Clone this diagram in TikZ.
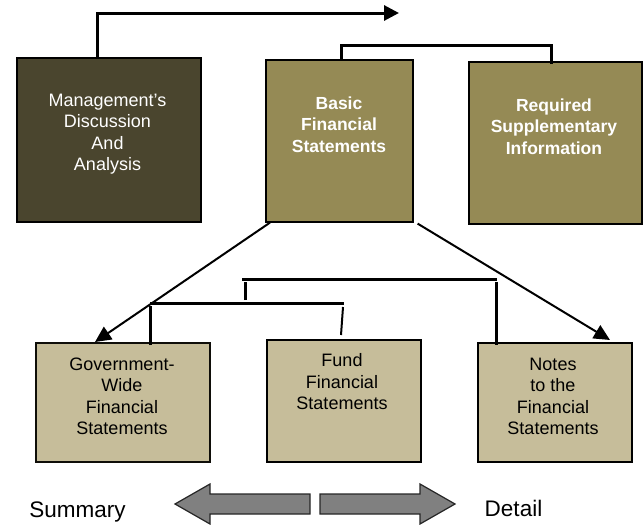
\documentclass[tikz,border=0pt]{standalone}
\usepackage{fontspec}
\setmainfont{Liberation Sans}
\usetikzlibrary{arrows.meta,calc}
\definecolor{mdfill}{RGB}{74,69,46}
\definecolor{midfill}{RGB}{149,138,85}
\definecolor{lowfill}{RGB}{198,189,154}
\definecolor{bigarrow}{RGB}{128,128,128}
\tikzset{
  box/.style={draw=black, line width=1.6pt, inner sep=0pt, anchor=north west},
  boxtext/.style={align=center, anchor=north, inner sep=0pt, font=\fontsize{18}{21.5}\selectfont},
  boldtext/.style={align=center, anchor=north, inner sep=0pt, text=white, font=\fontsize{17.5}{21.5}\selectfont\bfseries},
  conn/.style={line width=3pt},
  thinconn/.style={line width=2pt},
  diag/.style={line width=2pt, -{Triangle[length=16pt,width=15pt]}},
  bigarr/.style={fill=bigarrow, draw=black!85, line width=1.2pt},
  sidelabel/.style={anchor=base, inner sep=0pt, font=\fontsize{22.5}{26}\selectfont}
}
\begin{document}
\begin{tikzpicture}[x=1pt,y=-1pt]
\useasboundingbox (0,0) rectangle (643,525);
% top boxes
\node[box, fill=mdfill, minimum width=184pt, minimum height=164pt] (md) at (16,57) {};
\node[box, fill=midfill, minimum width=147pt, minimum height=162pt] (basic) at (265,59) {};
\node[box, fill=midfill, minimum width=173pt, minimum height=162pt] (req) at (468,61) {};
% bottom boxes
\node[box, draw=black!80!mdfill, fill=lowfill, minimum width=174pt, minimum height=119pt] (gov) at (35,342) {};
\node[box, line width=2pt, fill=lowfill, minimum width=154pt, minimum height=122pt] (fund) at (266,339) {};
\node[box, line width=2pt, fill=lowfill, minimum width=154pt, minimum height=119pt] (notes) at (477,342) {};
% texts
\node[boxtext, text=white] (mdt) at (107.5,93.5) {Management's\\Discussion\\And\\Analysis};
\node[boldtext] (basict) at (339,96.5) {Basic\\Financial\\Statements};
\node[boldtext] (reqt) at (554,98.5) {Required\\Supplementary\\Information};
\node[boxtext] (govt) at (122,357.5) {Government-\\Wide\\Financial\\Statements};
\node[boxtext] (fundt) at (342,353.5) {Fund\\Financial\\Statements};
\node[boxtext] (notest) at (553,357.5) {Notes\\to the\\Financial\\Statements};
% top arrow from MD&A
\coordinate (topend) at (399,13);
\draw[conn, -{Triangle[length=15pt,width=15pt]}] ($(md.north)+(-11,0)$) |- (topend);
% bracket Basic - Required
\draw[conn] ($(basic.north)+(2,0)$) -- ++(0,-14) -| ($(req.north)+(-4,3)$);
% diagonal arrows
\draw[diag] ($(basic.south west)+(5,0)$) -- ($(gov.north west)+(60,0)$);
\draw[diag] ($(basic.south east)+(4,1)$) -- ($(notes.north west)+(133,-2)$);
% lower bracket structure
\coordinate (lowL) at (150,303);
\coordinate (lowR) at (344,303);
\coordinate (upL) at (242,279);
\coordinate (upR) at (497,279);
\draw[conn] ($(gov.north west)+(115,3)$) -- (150,306);
\draw[conn] (lowL) -- (lowR);
\draw[thinconn] (343,307) -- ($(fund.north west)+(75,-4)$);
\draw[conn] (245,300) -- (245,282);
\draw[conn] (upL) -- (upR);
\draw[conn] (496,282) -- ($(notes.north west)+(19,3)$);
% big arrows
\draw[bigarr] (175,504) -- (210,484) -- (210,494) -- (310,494) -- (310,514) -- (210,514) -- (210,524) -- cycle;
\draw[bigarr] (455,504) -- (420,484) -- (420,494) -- (320,494) -- (320,514) -- (420,514) -- (420,524) -- cycle;
\node[sidelabel] (summary) at (77.5,517) {Summary};
\node[sidelabel] (detail) at (513.5,516) {Detail};
\end{tikzpicture}
\end{document}
